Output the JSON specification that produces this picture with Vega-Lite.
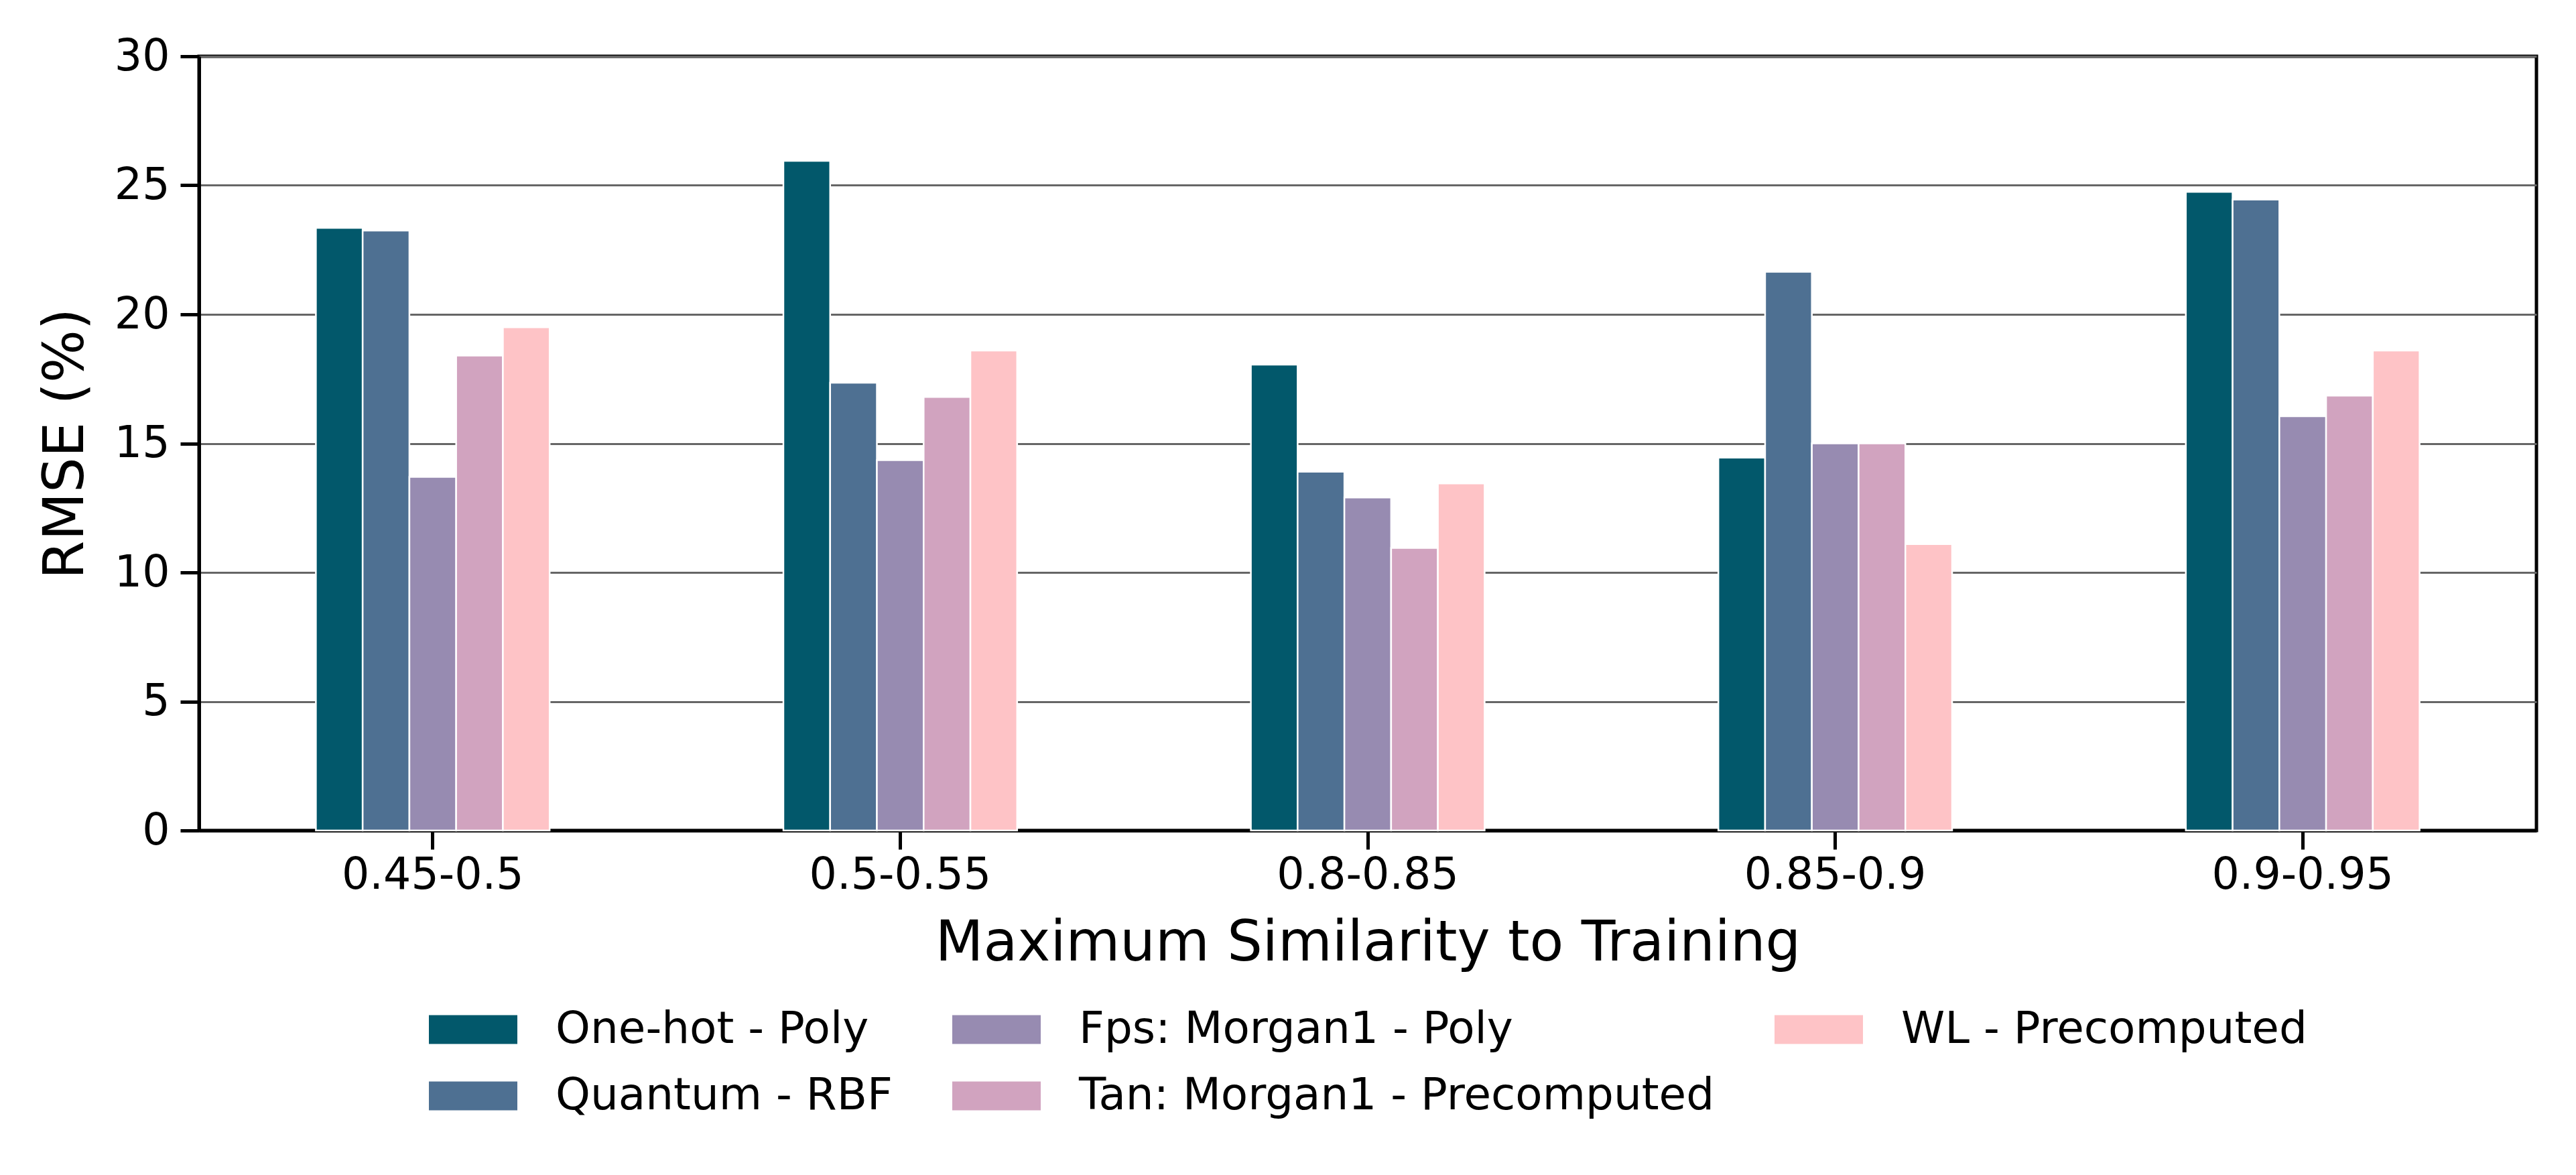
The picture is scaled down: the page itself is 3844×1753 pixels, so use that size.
{
  "$schema": "https://vega.github.io/schema/vega-lite/v6.json",
  "description": "Grouped bars of RMSE by maximum similarity to training, one bar per kernel model.",
  "width": 3488,
  "height": 1155,
  "autosize": "none",
  "padding": {"left": 297, "top": 84, "right": 59, "bottom": 514},
  "background": "white",
  "data": {
    "values": [
      {"range": "0.45-0.5", "model": "One-hot - Poly", "rmse": 23.35},
      {"range": "0.45-0.5", "model": "Quantum - RBF", "rmse": 23.25},
      {"range": "0.45-0.5", "model": "Fps: Morgan1 - Poly", "rmse": 13.7},
      {"range": "0.45-0.5", "model": "Tan: Morgan1 - Precomputed", "rmse": 18.4},
      {"range": "0.45-0.5", "model": "WL - Precomputed", "rmse": 19.5},
      {"range": "0.5-0.55", "model": "One-hot - Poly", "rmse": 25.95},
      {"range": "0.5-0.55", "model": "Quantum - RBF", "rmse": 17.35},
      {"range": "0.5-0.55", "model": "Fps: Morgan1 - Poly", "rmse": 14.35},
      {"range": "0.5-0.55", "model": "Tan: Morgan1 - Precomputed", "rmse": 16.8},
      {"range": "0.5-0.55", "model": "WL - Precomputed", "rmse": 18.6},
      {"range": "0.8-0.85", "model": "One-hot - Poly", "rmse": 18.05},
      {"range": "0.8-0.85", "model": "Quantum - RBF", "rmse": 13.9},
      {"range": "0.8-0.85", "model": "Fps: Morgan1 - Poly", "rmse": 12.9},
      {"range": "0.8-0.85", "model": "Tan: Morgan1 - Precomputed", "rmse": 10.95},
      {"range": "0.8-0.85", "model": "WL - Precomputed", "rmse": 13.45},
      {"range": "0.85-0.9", "model": "One-hot - Poly", "rmse": 14.45},
      {"range": "0.85-0.9", "model": "Quantum - RBF", "rmse": 21.65},
      {"range": "0.85-0.9", "model": "Fps: Morgan1 - Poly", "rmse": 15.0},
      {"range": "0.85-0.9", "model": "Tan: Morgan1 - Precomputed", "rmse": 15.0},
      {"range": "0.85-0.9", "model": "WL - Precomputed", "rmse": 11.1},
      {"range": "0.9-0.95", "model": "One-hot - Poly", "rmse": 24.75},
      {"range": "0.9-0.95", "model": "Quantum - RBF", "rmse": 24.45},
      {"range": "0.9-0.95", "model": "Fps: Morgan1 - Poly", "rmse": 16.05},
      {"range": "0.9-0.95", "model": "Tan: Morgan1 - Precomputed", "rmse": 16.85},
      {"range": "0.9-0.95", "model": "WL - Precomputed", "rmse": 18.6}
    ]
  },
  "mark": {"type": "bar", "stroke": "white", "strokeWidth": 2.5},
  "encoding": {
    "x": {
      "field": "range",
      "type": "nominal",
      "sort": null,
      "scale": {"paddingInner": 0.5, "paddingOuter": 0.25},
      "axis": {
        "title": "Maximum Similarity to Training",
        "labelAngle": 0,
        "labelPadding": 7,
        "labelLimit": 2000,
        "titlePadding": 28,
        "grid": false
      }
    },
    "xOffset": {
      "field": "model",
      "type": "nominal",
      "sort": ["One-hot - Poly", "Quantum - RBF", "Fps: Morgan1 - Poly", "Tan: Morgan1 - Precomputed", "WL - Precomputed"],
      "scale": {"paddingInner": 0, "paddingOuter": 0}
    },
    "y": {
      "field": "rmse",
      "type": "quantitative",
      "scale": {"domain": [0, 30], "nice": false},
      "axis": {
        "title": "RMSE (%)",
        "values": [0, 5, 10, 15, 20, 25, 30],
        "labelPadding": 16,
        "titlePadding": 30,
        "grid": true,
        "gridColor": "#666666",
        "gridWidth": 3,
        "gridOpacity": 1
      }
    },
    "color": {
      "field": "model",
      "type": "nominal",
      "scale": {
        "domain": ["One-hot - Poly", "Fps: Morgan1 - Poly", "WL - Precomputed", "Quantum - RBF", "Tan: Morgan1 - Precomputed"],
        "range": ["#02586b", "#978bb1", "#fec3c6", "#4e7092", "#d1a3bf"]
      },
      "legend": {
        "title": null,
        "orient": "none",
        "legendX": 343,
        "legendY": 1386,
        "direction": "horizontal",
        "columns": 3,
        "columnPadding": 89,
        "rowPadding": -39,
        "symbolType": "M-1,-0.326H1V0.326H-1Z",
        "symbolSize": 17424,
        "symbolStrokeWidth": 0,
        "symbolOpacity": 1,
        "labelFont": "DejaVu Sans",
        "labelFontSize": 66,
        "labelColor": "black",
        "labelOffset": 57,
        "labelLimit": 3000
      }
    }
  },
  "config": {
    "font": "DejaVu Sans",
    "view": {"stroke": "black", "strokeWidth": 5},
    "axis": {
      "zindex": 1,
      "domain": true,
      "domainColor": "black",
      "domainWidth": 5,
      "ticks": true,
      "tickColor": "black",
      "tickWidth": 5,
      "tickSize": 28,
      "labelFont": "DejaVu Sans",
      "labelFontSize": 65,
      "labelColor": "black",
      "titleFont": "DejaVu Sans",
      "titleFontSize": 83,
      "titleFontWeight": "normal",
      "titleColor": "black"
    }
  }
}
